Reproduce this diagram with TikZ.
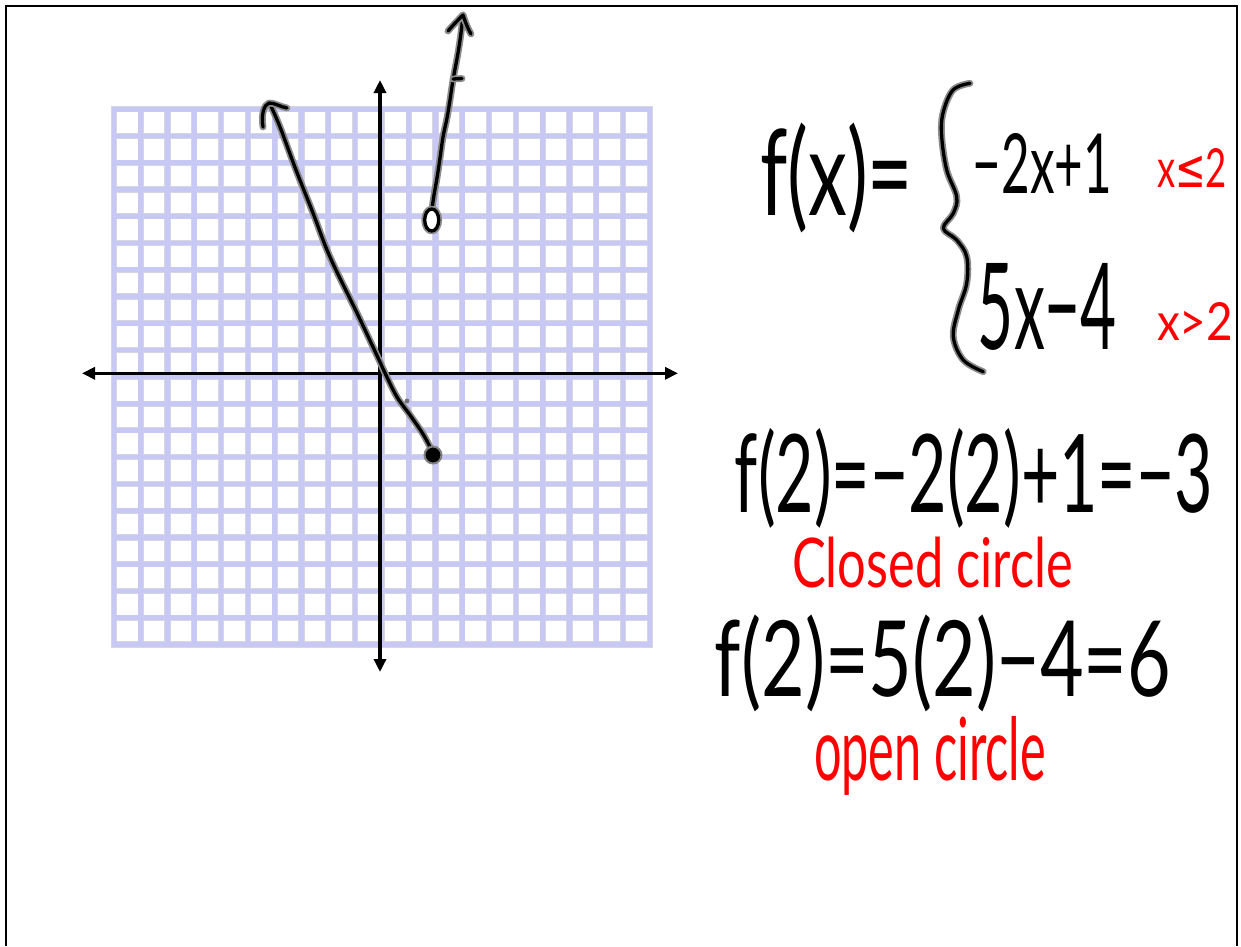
\documentclass[tikz,border=0pt]{standalone}
\usepackage{fontspec}
\setmainfont{Lato}
\newfontfamily\djv{DejaVu Sans}
\usepackage{graphicx}
\usetikzlibrary{arrows.meta}
\definecolor{gridblue}{RGB}{200,200,245}
\definecolor{gridedge}{RGB}{214,214,226}
\definecolor{inkred}{RGB}{255,0,0}
\newcommand{\hwbox}[3]{\resizebox*{#1pt}{#2pt}{#3}}
\tikzset{
  gridshadow/.style={draw=gridedge, line width=6.2pt, line cap=rect},
  gridline/.style={draw=gridblue, line width=4.6pt, line cap=rect},
  axisline/.style={draw=black, line width=3.6pt},
  ink/.style={draw=black, line width=3.3pt, line cap=round, line join=round,
    preaction={draw=black!45, line width=6.8pt, line cap=round, line join=round}},
  hwtext/.style={inner sep=0pt, outer sep=0pt, anchor=center},
  blacktext/.style={hwtext, text=black},
  redtext/.style={hwtext, text=inkred},
  frameline/.style={draw=black, line width=2.6pt}
}
\begin{document}
\begin{tikzpicture}[x=1pt,y=-1pt]
\useasboundingbox (0,0) rectangle (1241,946);
% frame (open at the bottom)
\draw[frameline] (6,946) -- (6,6) -- (1237,6) -- (1237,946);
% grid
\foreach \i in {0,...,20} {
  \draw[gridshadow] ({113.8+26.81*\i},109.2) -- ({113.8+26.81*\i},644.5);
  \draw[gridshadow] (113.8,{109.2+26.765*\i}) -- (650,{109.2+26.765*\i});
}
\foreach \i in {0,...,20} {
  \draw[gridline] ({113.8+26.81*\i},109.2) -- ({113.8+26.81*\i},644.5);
  \draw[gridline] (113.8,{109.2+26.765*\i}) -- (650,{109.2+26.765*\i});
}
% axes
\coordinate (xl) at (82,373.3);
\coordinate (xr) at (678,373.3);
\coordinate (yt) at (380,80);
\coordinate (yb) at (380,672);
\draw[axisline, {Triangle[length=13pt,width=12pt]}-{Triangle[length=13pt,width=12pt]}] (xl) -- (xr);
\draw[axisline, {Triangle[length=13pt,width=12pt]}-{Triangle[length=13pt,width=12pt]}] (yt) -- (yb);
% left piece of the graph
\draw[ink] plot[smooth, tension=0.6] coordinates {(270,104) (280,127) (296,170) (313,213) (330,257) (357,313) (373,347) (380,362) (385,373) (397,397) (410,415) (423,434) (431,449)};
\draw[ink] (263,127) .. controls (261,114) and (264,105) .. (269,103) .. controls (275,103) and (281,107) .. (287,108);
\fill[black!55] (407,401) circle (2.4);
\draw[black!50, line width=2pt, fill=black] (433,455) circle (8.5);
% right piece of the graph
\draw[ink] plot[smooth, tension=0.6] coordinates {(432,209) (434,195) (437,178) (440,158) (443,137) (447,118) (450,100) (453,80) (458,53) (461,33) (463,15)};
\draw[ink] (448,31) .. controls (454,24) and (459,19) .. (463,15) .. controls (465,21) and (467,27) .. (471,34);
\draw[ink] (453,79) -- (462,78.5);
\draw[ink, fill=white] (431.7,220) ellipse (7 and 11);
% curly brace
\draw[ink] plot[smooth, tension=0.6] coordinates {(970,83.3) (953,90) (943,113) (941.7,136.7) (946.7,170) (956.7,196.7) (953.3,213.3) (943.3,228.3) (956.7,240) (966.7,256.7) (966.7,283.3) (958.3,310) (953.3,336.7) (963.3,360) (983.3,371.7)};
% texts
\node[blacktext] (fx) at (836.5,178) {\hwbox{153}{110}{f(x)=}};
\node[blacktext] (caseA) at (1042.5,163) {\hwbox{139}{60}{−2x+1}};
\node[redtext] (condA) at (1192,167.5) {\hwbox{70}{39}{x{\djv ≤}2}};
\node[blacktext] (caseB) at (1047.5,306.5) {\hwbox{139}{87}{5x−4}};
\node[redtext] (condB) at (1195,321) {\hwbox{76}{38}{x>2}};
\node[blacktext] (evalA) at (974,478) {\hwbox{478}{100}{f(2)=−2(2)+1=−3}};
\node[redtext] (noteA) at (932.5,562.5) {\hwbox{281}{51}{Closed circle}};
\node[blacktext] (evalB) at (943,663.5) {\hwbox{456}{97}{f(2)=5(2)−4=6}};
\node[redtext] (noteB) at (930,755.5) {\hwbox{232}{79}{open circle}};
\end{tikzpicture}
\end{document}
